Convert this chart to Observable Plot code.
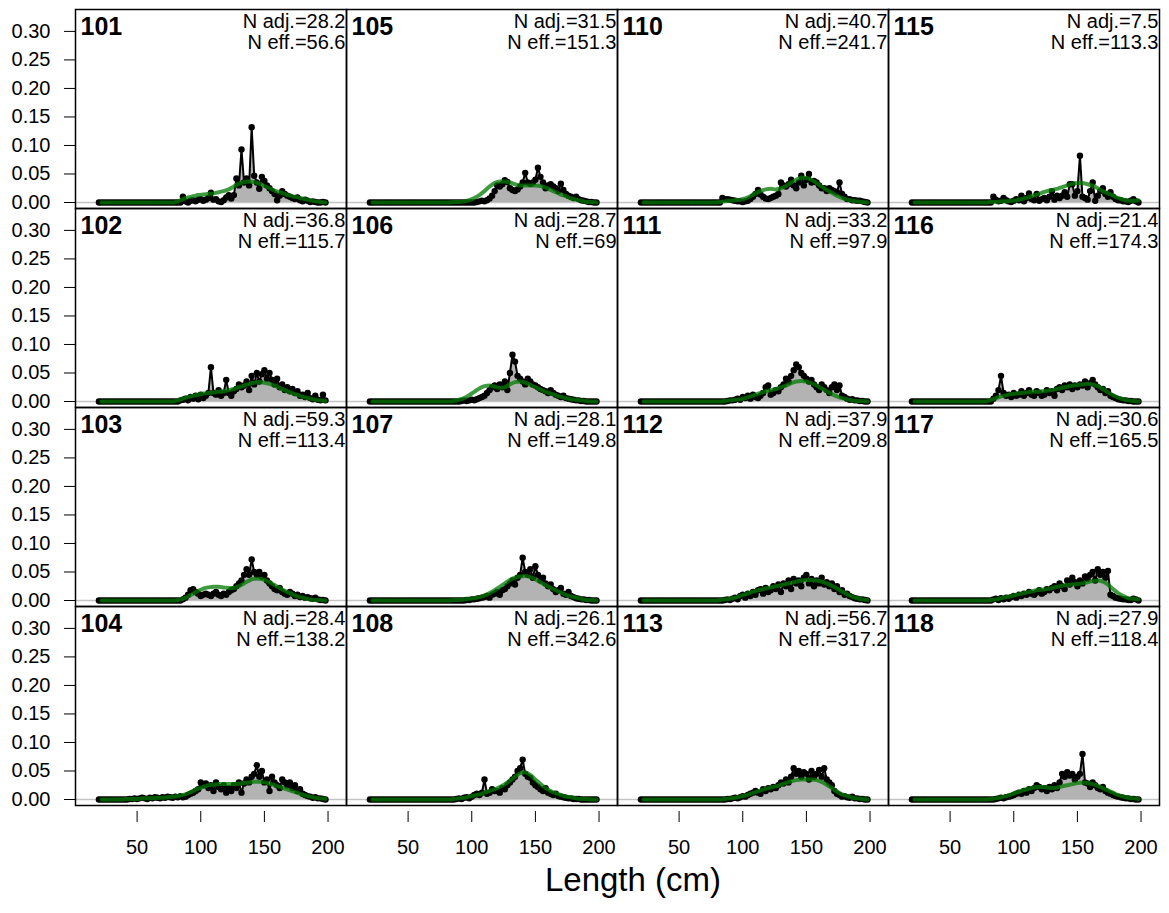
<!DOCTYPE html>
<html><head><meta charset="utf-8">
<script src="https://cdn.jsdelivr.net/npm/d3@7"></script>
<script src="https://cdn.jsdelivr.net/npm/@observablehq/plot@0.6"></script>
<style>
body{margin:0;background:#fff;}
#wrap{position:relative;width:1169px;height:913px;font-family:"Liberation Sans",Arial,Helvetica,sans-serif;}
#xlabel{position:absolute;left:333px;width:600px;top:863px;text-align:center;font-size:33px;line-height:1;color:#000;}
#warn{position:absolute;left:0;top:0;font-size:10px;color:red;}
</style></head><body>
<div id="wrap"><div id="chart"></div><div id="xlabel">Length (cm)</div><div id="warn"></div></div>
<script>
// ---- data ----
const lengths = [20,22,24,26,28,30,32,34,36,38,40,42,44,46,48,50,52,54,56,58,60,62,64,66,68,70,72,74,76,78,80,82,84,86,88,90,92,94,96,98,100,102,104,106,108,110,112,114,116,118,120,122,124,126,128,130,132,134,136,138,140,142,144,146,148,150,152,154,156,158,160,162,164,166,168,170,172,174,176,178,180,182,184,186,188,190,192,194,196,198];
const expLengths = [22,26,30,34,38,42,46,50,54,58,62,66,70,74,78,82,86,90,94,98,102,106,110,114,118,122,126,130,134,138,142,146,150,154,158,162,166,170,174,178,182,186,190,194,198];

const panelIds = ["101","102","103","104","105","106","107","108","110","111","112","113","115","116","117","118"];
const nAdj = ["28.2","36.8","59.3","28.4","31.5","28.7","28.1","26.1","40.7","33.2","37.9","56.7","7.5","21.4","30.6","27.9"];
const nEff = ["56.6","115.7","113.4","138.2","151.3","69","149.8","342.6","241.7","97.9","209.8","317.2","113.3","174.3","165.5","118.4"];
const yTicks = [0, 0.05, 0.10, 0.15, 0.20, 0.25, 0.30];
const xTicks = [50, 100, 150, 200];

const obs101 = [0,0,0,0,0,0,0,0, 0,0,0,0,0,0,0,0, 0,0,0,0,0,0,0,0, 0,0,0,0,0,0,0,0,
 0,.010,.002,0,.003,.004,.002,.005,.006,.003,
 .005,.008,.017,.005,.006,.002,.001,.004,.009,.013,
 .007,.013,.042,.030,.093,.035,.042,.030,.132,.047,
 .035,.024,.045,.038,.030,.025,.020,.015,.004,.012,
 .020,.015,.012,.010,.008,.006,.009,.004,.002,.005,
 .003,.001,.002,.001,0,0,.001,0];
const exp101 = [0,0,0,0,0, 0,0,0,0,0, 0,0,0,0,0,
 .002,.006,.009,.011,.013,.014,.015,.016,.018,.020, .023,.028,.033,.036,.037,.036,.033,.029,.025,.021, .018,.015,.012,.010,.008,.006,.004,.002,.001,0];

const obs102 = [0,0,0,0,0,0,0,0, 0,0,0,0,0,0,0,0, 0,0,0,0,0,0,0,0, 0,0,0,0,0,0,0,0,
 .002,.003,.005,.002,.008,.005,.010,.004,.012,.006,
 .010,.015,.060,.015,.012,.020,.010,.015,.038,.015,
 .010,.018,.022,.030,.025,.028,.035,.020,.045,.030,
 .050,.035,.048,.055,.040,.050,.038,.030,.040,.025,
 .030,.020,.025,.018,.022,.015,.018,.010,.012,.008,
 .015,.006,.004,.010,.003,.002,.012,.002];
const exp102 = [0,0,0,0,0, 0,0,0,0,0, 0,0,0,0,0,
 .002,.005,.008,.010,.012,.014,.015,.016,.017,.018, .020,.022,.025,.028,.031,.033,.034,.033,.031,.028, .024,.020,.016,.013,.010,.007,.005,.003,.002,.001];

const obs103 = [0,0,0,0,0,0,0,0, 0,0,0,0,0,0,0,0, 0,0,0,0,0,0,0,0, 0,0,0,0,0,0,0,0,
 0,.002,.005,.010,.018,.020,.015,.012,.008,.010,
 .012,.010,.008,.012,.015,.010,.008,.012,.010,.015,
 .018,.020,.025,.030,.035,.045,.055,.045,.072,.050,
 .045,.050,.042,.045,.035,.030,.025,.020,.018,.022,
 .015,.012,.010,.015,.012,.008,.010,.006,.008,.005,
 .006,.004,.003,.005,.002,.001,.001,0];
const exp103 = [0,0,0,0,0, 0,0,0,0,0, 0,0,0,0,0,
 .001,.003,.007,.012,.017,.021,.023,.024,.024,.023, .022,.022,.025,.030,.035,.038,.038,.036,.032,.027, .022,.017,.013,.009,.006,.004,.002,.001,.001,0];

const obs104 = [0,0,0,0,0,0,0,0,0,0,0,0,
 .001,.001,.002,.001,.002,.003,.002,.001,.003,.002,
 .004,.003,.002,.004,.003,.005,.004,.003,.005,.004,
 .006,.004,.005,.008,.010,.012,.015,.018,.030,.025,
 .028,.020,.025,.015,.030,.022,.018,.025,.012,.020,
 .015,.025,.020,.030,.012,.028,.035,.030,.040,.045,
 .060,.040,.050,.030,.035,.015,.040,.030,.025,.020,
 .035,.030,.025,.030,.020,.025,.015,.018,.010,.008,
 .006,.005,.003,.004,.002,.002,.001,0];
const exp104 = [0,0,0,0,0,.001,.001,.001,.002,.002,.002,.003,.003,.004,.005,
 .006,.008,.011,.015,.019,.022,.025,.026,.027,.027, .027,.027,.028,.029,.030,.031,.031,.030,.028,.025, .022,.019,.016,.013,.010,.007,.005,.003,.002,.001];

const obs105 = [0,0,0,0,0,0,0,0, 0,0,0,0,0,0,0,0, 0,0,0,0,0,0,0,0, 0,0,0,0,0,0,0,0,
 0,0,0,0,0,0,0,0,0,0,
 .001,.002,.003,.002,.004,.007,.012,.020,.030,.028,
 .032,.039,.036,.025,.022,.020,.023,.028,.035,.052,
 .035,.033,.035,.040,.061,.045,.035,.025,.030,.032,
 .028,.025,.020,.033,.022,.015,.012,.010,.008,.010,
 .006,.004,.003,.002,.001,.001,0,0];
const exp105 = [0,0,0,0,0, 0,0,0,0,0, 0,0,0,0,0,
 0,.001,.001,.002,.004,.008,.013,.020,.028,.034, .037,.037,.035,.032,.030,.030,.030,.030,.029,.026, .022,.018,.014,.011,.007,.005,.003,.001,.001,0];

const obs106 = [0,0,0,0,0,0,0,0, 0,0,0,0,0,0,0,0, 0,0,0,0,0,0,0,0, 0,0,0,0,0,0,0,0,
 0,0,0,0,.001,.002,.001,.002,.003,.002,
 .004,.006,.008,.010,.015,.020,.025,.028,.022,.030,
 .025,.035,.020,.050,.082,.070,.045,.040,.035,.030,
 .040,.035,.030,.028,.025,.022,.020,.018,.015,.020,
 .015,.012,.010,.008,.010,.006,.005,.004,.003,.002,
 .002,.001,.001,0,0,0,0,0];
const exp106 = [0,0,0,0,0, 0,0,0,0,0, 0,0,0,0,0,
 0,.001,.003,.006,.011,.017,.023,.027,.028,.026, .024,.025,.030,.034,.035,.033,.029,.025,.021,.017, .014,.011,.008,.006,.004,.003,.002,.001,0,0];

const obs107 = [0,0,0,0,0,0,0,0, 0,0,0,0,0,0,0,0, 0,0,0,0,0,0,0,0, 0,0,0,0,0,0,0,0,
 0,0,0,0,0,0,.001,.001,.002,.002,
 .003,.004,.005,.006,.008,.005,.010,.012,.015,.010,
 .018,.020,.025,.030,.035,.028,.040,.045,.075,.050,
 .045,.055,.040,.060,.045,.035,.040,.030,.025,.028,
 .020,.015,.018,.022,.012,.010,.015,.008,.006,.004,
 .003,.002,.002,.001,.001,0,0,0];
const exp107 = [0,0,0,0,0, 0,0,0,0,0, 0,0,0,0,0,
 0,.001,.001,.002,.003,.004,.006,.009,.013,.018, .024,.030,.036,.040,.042,.043,.041,.037,.032,.027, .022,.018,.014,.010,.007,.005,.003,.001,.001,0];

const obs108 = [0,0,0,0,0,0,0,0, 0,0,0,0,0,0,0,0, 0,0,0,0,0,0,0,0, 0,0,0,0,0,0,0,0,
 0,0,.001,.002,.001,.003,.004,.002,.005,.008,
 .010,.008,.012,.035,.010,.012,.018,.015,.015,.012,
 .020,.018,.025,.030,.035,.040,.050,.055,.070,.045,
 .040,.038,.030,.025,.022,.018,.015,.020,.012,.010,
 .008,.010,.006,.005,.004,.003,.002,.002,.001,.001,
 .001,0,0,0,0,0,0,0];
const exp108 = [0,0,0,0,0, 0,0,0,0,0, 0,0,0,0,0,
 0,.001,.002,.003,.005,.007,.009,.012,.015,.018, .022,.027,.033,.040,.046,.048,.043,.035,.027,.020, .015,.011,.008,.005,.004,.002,.001,.001,0,0];

const obs110 = [0,0,0,0,0,0,0,0, 0,0,0,0,0,0,0,0, 0,0,0,0,0,0,0,0, 0,0,0,0,0,0,0,0,
 .008,.006,.006,.005,.004,.003,.002,.002,.001,.002,
 .003,.006,.010,.015,.022,.014,.010,.007,.006,.008,
 .010,.012,.015,.035,.030,.028,.032,.040,.030,.025,
 .035,.047,.030,.040,.050,.035,.038,.035,.030,.025,
 .025,.020,.025,.022,.020,.018,.035,.015,.010,.006,
 .006,.004,.004,.003,.003,.002,.001,0];
const exp110 = [0,0,0,0,0, 0,0,0,0,0, 0,0,0,0,0,
 .001,.002,.003,.004,.005,.007,.011,.016,.020,.023, .024,.023,.025,.029,.035,.040,.044,.043,.040,.034, .028,.022,.017,.012,.008,.005,.003,.002,.001,0];

const obs111 = [0,0,0,0,0,0,0,0, 0,0,0,0,0,0,0,0, 0,0,0,0,0,0,0,0, 0,0,0,0,0,0,0,0,
 0,0,.001,.002,.002,.003,.005,.003,.008,.006,
 .010,.005,.012,.008,.006,.010,.015,.025,.028,.012,
 .015,.020,.018,.025,.030,.040,.035,.045,.055,.065,
 .060,.050,.045,.040,.035,.038,.030,.025,.020,.030,
 .025,.020,.015,.025,.030,.020,.028,.010,.008,.005,
 .003,.004,.002,.002,.001,.001,0,0];
const exp111 = [0,0,0,0,0, 0,0,0,0,0, 0,0,0,0,0,
 0,.001,.002,.003,.004,.006,.009,.012,.015,.018, .020,.022,.025,.028,.032,.035,.036,.035,.032,.028, .023,.018,.013,.009,.006,.004,.002,.001,.001,0];

const obs112 = [0,0,0,0,0,0,0,0, 0,0,0,0,0,0,0,0, 0,0,0,0,0,0,0,0, 0,0,0,0,0,0,0,0,
 0,.001,.002,.001,.003,.005,.002,.008,.010,.005,
 .012,.008,.015,.010,.018,.020,.012,.022,.015,.018,
 .025,.020,.028,.015,.030,.025,.035,.020,.038,.030,
 .035,.025,.040,.045,.030,.038,.025,.035,.030,.040,
 .028,.032,.025,.030,.020,.025,.015,.018,.010,.012,
 .008,.006,.004,.003,.002,.002,.001,0];
const exp112 = [0,0,0,0,0, 0,0,0,0,0, 0,0,0,0,0,
 .001,.002,.003,.005,.008,.011,.014,.017,.019,.021, .023,.025,.027,.029,.031,.033,.035,.036,.036,.035, .033,.030,.026,.021,.016,.011,.007,.004,.002,.001];

const obs113 = [0,0,0,0,0,0,0,0, 0,0,0,0,0,0,0,0, 0,0,0,0,0,0,0,0, 0,0,0,0,0,0,0,0,
 0,0,.001,.001,.002,.003,.002,.004,.006,.005,
 .008,.010,.012,.015,.012,.010,.018,.015,.020,.018,
 .022,.020,.025,.030,.028,.035,.030,.040,.055,.045,
 .050,.040,.048,.045,.035,.050,.040,.045,.052,.040,
 .055,.035,.030,.025,.015,.010,.008,.005,.006,.004,
 .003,.005,.002,.002,.001,.001,0,0];
const exp113 = [0,0,0,0,0, 0,0,0,0,0, 0,0,0,0,0,
 0,.001,.002,.003,.005,.007,.010,.013,.016,.019, .021,.023,.026,.029,.032,.034,.035,.035,.035,.034, .031,.026,.020,.014,.009,.006,.003,.002,.001,0];

const obs115 = [0,0,0,0,0,0,0,0, 0,0,0,0,0,0,0,0, 0,0,0,0,0,0,0,0, 0,0,0,0,0,0,0,0,
 .010,.005,.002,.003,.008,.004,.002,.001,.003,.006,
 .004,.012,.002,.008,.016,.006,.004,.015,.003,.006,
 .008,.004,.010,.020,.005,.012,.008,.012,.018,.010,
 .032,.032,.012,.020,.082,.010,.008,.005,.020,.035,
 .003,.012,.020,.025,.015,.010,.018,.010,.006,.004,
 .004,.002,.002,.001,.003,.006,.002,0];
const exp115 = [0,0,0,0,0, 0,0,0,0,0, 0,0,0,0,0,
 .001,.001,.002,.002,.003,.004,.006,.008,.011,.014, .017,.020,.022,.024,.027,.030,.033,.034,.034,.032, .029,.025,.020,.016,.012,.008,.005,.003,.003,.004];

const obs116 = [0,0,0,0,0,0,0,0, 0,0,0,0,0,0,0,0, 0,0,0,0,0,0,0,0, 0,0,0,0,0,0,0,0,
 .005,.010,.020,.045,.015,.010,.012,.008,.015,.010,
 .012,.018,.010,.015,.020,.012,.010,.018,.015,.010,
 .012,.020,.015,.018,.010,.022,.025,.020,.028,.025,
 .030,.022,.028,.025,.030,.028,.035,.025,.032,.038,
 .030,.025,.020,.022,.015,.018,.010,.008,.006,.004,
 .003,.002,.002,.001,.001,0,0,0];
const exp116 = [0,0,0,0,0, 0,0,0,0,0, 0,0,0,0,0,
 .003,.006,.009,.011,.013,.014,.015,.016,.017,.017, .018,.019,.020,.022,.024,.026,.028,.029,.030,.031, .030,.027,.022,.016,.011,.007,.004,.002,.001,0];

const obs117 = [0,0,0,0,0,0,0,0, 0,0,0,0,0,0,0,0, 0,0,0,0,0,0,0,0, 0,0,0,0,0,0,0,0,
 .002,.003,.001,.004,.002,.005,.003,.006,.008,.005,
 .010,.008,.012,.010,.015,.012,.010,.014,.018,.012,
 .015,.020,.018,.022,.025,.018,.030,.025,.020,.035,
 .028,.040,.032,.025,.035,.030,.042,.038,.045,.050,
 .035,.055,.045,.050,.040,.052,.010,.008,.005,.004,
 .003,.002,.002,.001,.001,.003,.002,0];
const exp117 = [0,0,0,0,0, 0,0,0,0,0, 0,0,0,0,0,
 .001,.002,.004,.006,.008,.010,.012,.014,.016,.018, .019,.020,.022,.024,.026,.027,.028,.029,.030,.032, .034,.035,.033,.028,.020,.013,.008,.004,.003,.002];

const obs118 = [0,0,0,0,0,0,0,0, 0,0,0,0,0,0,0,0, 0,0,0,0,0,0,0,0, 0,0,0,0,0,0,0,0,
 0,.001,.002,.003,.002,.004,.005,.006,.008,.010,
 .012,.010,.015,.012,.018,.015,.020,.025,.022,.018,
 .020,.015,.022,.018,.025,.020,.030,.045,.040,.048,
 .042,.045,.035,.040,.045,.080,.030,.028,.022,.030,
 .025,.020,.018,.022,.015,.012,.010,.008,.006,.005,
 .004,.003,.002,.002,.001,.001,0,0];
const exp118 = [0,0,0,0,0, 0,0,0,0,0, 0,0,0,0,0,
 .001,.002,.004,.006,.009,.012,.015,.018,.020,.022, .022,.021,.020,.021,.023,.025,.027,.029,.030,.029, .027,.024,.020,.016,.012,.008,.005,.003,.002,.001];

// ---- assemble (panels ordered down each column) ----
const obsSeries = [obs101,obs102,obs103,obs104,obs105,obs106,obs107,obs108,obs110,obs111,obs112,obs113,obs115,obs116,obs117,obs118];
const expSeries = [exp101,exp102,exp103,exp104,exp105,exp106,exp107,exp108,exp110,exp111,exp112,exp113,exp115,exp116,exp117,exp118];

const warn = [];
const obsRows = [], expRows = [], labRows = [];
panelIds.forEach((id, i) => {
  const col = Math.floor(i / 4), row = i % 4;
  if (obsSeries[i].length !== lengths.length) warn.push("obs" + id + ":" + obsSeries[i].length);
  if (expSeries[i].length !== expLengths.length) warn.push("exp" + id + ":" + expSeries[i].length);
  obsSeries[i].forEach((v, j) => obsRows.push({col, row, len: lengths[j], val: v}));
  expSeries[i].forEach((v, j) => expRows.push({col, row, len: expLengths[j], val: v}));
  labRows.push({col, row, id, adj: "N adj.=" + nAdj[i], eff: "N eff.=" + nEff[i]});
});
document.getElementById("warn").textContent = warn.join(" ");

const font = '"Liberation Sans", Arial, Helvetica, sans-serif';
const chart = Plot.plot({
  width: 1169, height: 913,
  marginTop: 7, marginRight: 9, marginBottom: 107, marginLeft: 74,
  style: {fontFamily: font, fontSize: "20px", background: "white", color: "black"},
  fx: {domain: [0, 1, 2, 3], padding: 0, axis: null},
  fy: {domain: [0, 1, 2, 3], padding: 0, axis: null},
  x: {domain: [1.6, 214.5]},
  y: {domain: [-0.0105, 0.3384]},
  marks: [
    Plot.ruleY([0], {stroke: "#c4c4c4", strokeWidth: 1.5}),
    Plot.areaY(obsRows, {fx: "col", fy: "row", x: "len", y: "val", fill: "#b3b3b3"}),
    Plot.line(obsRows, {fx: "col", fy: "row", x: "len", y: "val", stroke: "black", strokeWidth: 2}),
    Plot.dot(obsRows, {fx: "col", fy: "row", x: "len", y: "val", r: 3.2, fill: "black", stroke: "none"}),
    Plot.line(expRows, {fx: "col", fy: "row", x: "len", y: "val", stroke: "#007a00", strokeOpacity: 0.75, strokeWidth: 4, curve: "monotone-x"}),
    Plot.frame({stroke: "black", strokeWidth: 1.5}),
    Plot.text(labRows, {fx: "col", fy: "row", frameAnchor: "top-left", text: "id", dx: 5, dy: 8, lineAnchor: "top", textAnchor: "start", fontSize: 25, fontWeight: "bold"}),
    Plot.text(labRows, {fx: "col", fy: "row", frameAnchor: "top-right", text: "adj", dx: -1, dy: 12, lineAnchor: "middle", textAnchor: "end", fontSize: 20}),
    Plot.text(labRows, {fx: "col", fy: "row", frameAnchor: "top-right", text: "eff", dx: -1, dy: 33, lineAnchor: "middle", textAnchor: "end", fontSize: 20}),
    Plot.axisY(yTicks, {anchor: "left", label: null, tickFormat: d3.format(".2f"), tickSize: 11, tickPadding: 14, fontSize: 20}),
    Plot.axisX(xTicks, {anchor: "bottom", label: null, tickSize: 11, tickPadding: 17, dy: 6, fontSize: 20})
  ]
});
document.getElementById("chart").appendChild(chart);
</script>
</body></html>
